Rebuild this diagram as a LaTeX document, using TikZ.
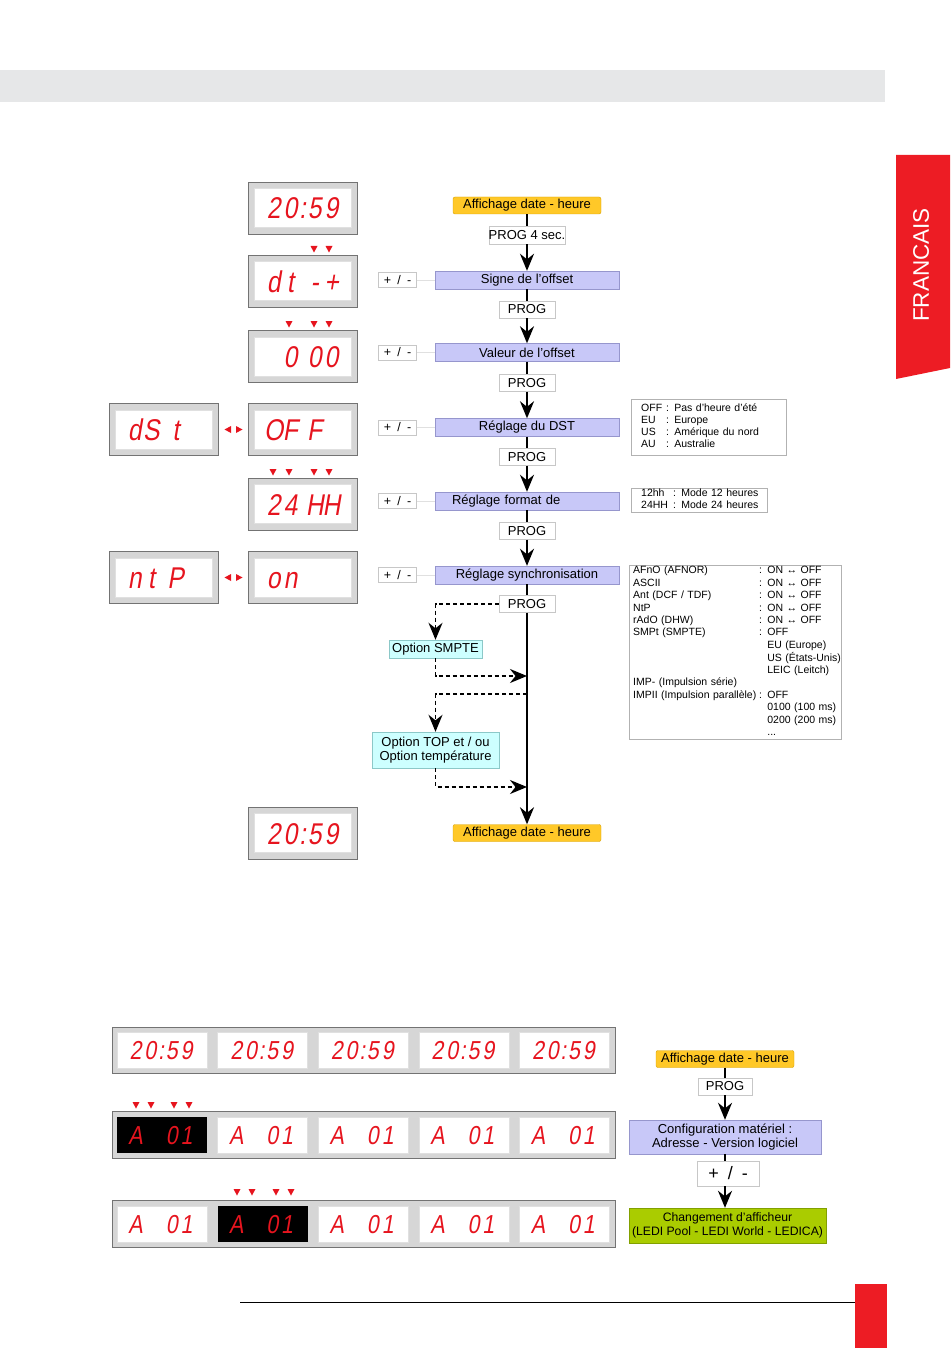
\documentclass[tikz,border=0pt]{standalone}
\usepackage{fontspec}
\setmainfont{Liberation Sans}
\newfontfamily\lcdfont{Liberation Sans}[FakeStretch=0.82, FakeSlant=0.17]
\usepackage{tikz}
\usetikzlibrary{shapes,arrows.meta,positioning,calc}

\definecolor{lcdred}{RGB}{230,20,30}
\definecolor{startfill}{RGB}{255,200,40}
\definecolor{startline}{RGB}{215,160,0}
\definecolor{menufill}{RGB}{200,200,248}
\definecolor{menuline}{RGB}{150,150,205}
\definecolor{optfill}{RGB}{205,255,255}
\definecolor{optline}{RGB}{140,200,200}
\definecolor{endfill}{RGB}{170,204,0}
\definecolor{endline}{RGB}{130,160,0}
\definecolor{bandgray}{RGB}{230,231,232}
\definecolor{tabred}{RGB}{237,28,36}

\newlength{\lcdw}
\newlength{\lcdg}
\newcommand{\flowfont}{\fontsize{13}{14.5}\selectfont}
\newcommand{\infofont}{\fontsize{10.5}{12}\selectfont}
\newcommand{\lcdcell}[1]{\makebox[\lcdw][c]{#1}}
\newcommand{\lcd}[5]{\lcdcell{#1}\lcdcell{#2}\makebox[\lcdg][c]{#3}\lcdcell{#4}\lcdcell{#5}}
\newcommand{\ardown}[2]{\fill[lcdred] (#1-3.5,#2-3) -- (#1+3.5,#2-3) -- (#1,#2+3.5) -- cycle;}
\newcommand{\arleft}[2]{\fill[lcdred] (#1+3,#2-3.5) -- (#1+3,#2+3.5) -- (#1-3.5,#2) -- cycle;}
\newcommand{\arright}[2]{\fill[lcdred] (#1-3,#2-3.5) -- (#1-3,#2+3.5) -- (#1+3.5,#2) -- cycle;}

\begin{document}
\begin{tikzpicture}[x=1pt, y=-1pt,
    casing/.style={draw=black!55, fill=black!16, line width=0.8pt, inner sep=0pt},
    lit/.style={fill=white, draw=black!12, inner sep=0pt},
    dark/.style={fill=black, inner sep=0pt},
    lcdtxt/.style={anchor=base west, inner sep=0pt, text=lcdred,
        font={\lcdfont\fontsize{30}{30}\selectfont\setlength{\lcdw}{16.8pt}\setlength{\lcdg}{7.5pt}}},
    lcdsmall/.style={lcdtxt,
        font={\lcdfont\fontsize{26}{26}\selectfont\setlength{\lcdw}{14.8pt}\setlength{\lcdg}{6.5pt}}},
    start/.style={draw=startline, fill=startfill, rounded corners=2pt, minimum width=148pt, minimum height=17pt, inner sep=0pt, font=\flowfont},
    finish/.style={draw=endline, fill=endfill, minimum width=197pt, minimum height=35pt, inner sep=0pt, align=center, font=\fontsize{12.2}{14}\selectfont},
    menu/.style={draw=menuline, fill=menufill, minimum width=184pt, minimum height=18pt, inner sep=0pt, font=\flowfont},
    btn/.style={draw=black!22, fill=white, minimum width=56pt, minimum height=17pt, inner sep=0pt, font=\flowfont},
    pm/.style={draw=black!22, fill=white, minimum width=38pt, minimum height=15pt, inner sep=0pt, font=\fontsize{12.5}{14}\selectfont},
    option/.style={draw=optline, fill=optfill, inner sep=0pt, align=center, font=\flowfont},
    info/.style={draw=black!30, fill=white, anchor=north west, inner ysep=0pt, align=left, font=\infofont},
    wire/.style={line width=2pt},
    flow/.style={line width=2pt, -{Stealth[length=17pt, width=14pt]}},
    dflow/.style={line width=1.8pt, dash pattern=on 4pt off 3pt, -{Stealth[length=17pt, width=14pt]}},
    faint/.style={draw=black!12, line width=0.6pt}
]
    \useasboundingbox (0,0) rectangle (950,1348);

    % Page
    \fill[bandgray] (0,70) rectangle (885,102);
    \fill[tabred] (896,155) -- (950,155) -- (950,368) -- (896,379) -- cycle;
    \node[rotate=90, inner sep=0pt, text=white, font=\fontsize{22.5}{24}\selectfont] (lang) at (921,265) {FRANCAIS};
    \draw[line width=0.8pt] (240,1302) -- (855,1302);
    \fill[tabred] (855,1284) rectangle (887,1348);

    % Displays of the menu
    \foreach \n/\yc/\txt in {clk/208/{\lcd{2}{0}{:}{5}{9}}, sign/281/{\lcd{d}{t}{}{-}{+}},
        offs/356.5/{\lcd{}{0}{}{0}{0}}, dstv/429.5/{\lcd{O}{F}{}{F}{}},
        mode/504/{\lcd{2}{4}{}{H}{H}}, ntpv/577.5/{\lcd{o}{n}{}{}{}}, clkb/833/{\lcd{2}{0}{:}{5}{9}}} {
        \node[casing, minimum width=109pt, minimum height=52pt] (\n) at (302.5,\yc) {};
        \node[lit, minimum width=97pt, minimum height=39pt] (\n-in) at (\n) {};
        \node[lcdtxt] (\n-txt) at (265,\yc+11) {\txt};
    }
    \foreach \n/\yc/\txt in {dstn/429.5/{\lcd{d}{S}{}{t}{}}, ntpn/577.5/{\lcd{n}{t}{}{P}{}}} {
        \node[casing, minimum width=109pt, minimum height=52pt] (\n) at (163.5,\yc) {};
        \node[lit, minimum width=97pt, minimum height=39pt] (\n-in) at (\n) {};
        \node[lcdtxt] (\n-txt) at (126,\yc+11) {\txt};
    }

    % Blinking digits
    \foreach \x in {314,329} \ardown{\x}{249};
    \foreach \x in {289,314,329} \ardown{\x}{324};
    \foreach \x in {273,289,314,329} \ardown{\x}{472};
    \foreach \y in {429.5,577.5} {
        \arleft{228}{\y}
        \arright{239}{\y}
    }

    % Menu
    \node[start] (aff1) at (527,205.5) {Affichage date - heure};
    \node[btn, minimum width=75pt, minimum height=18pt] (prog1) at (527,235) {PROG 4 sec.};
    \node[menu] (signe) at (527,280) {Signe de l'offset};
    \node[btn] (prog2) at (527,309.5) {PROG};
    \node[menu] (valeur) at (527,352.5) {Valeur de l'offset};
    \node[btn] (prog3) at (527,383) {PROG};
    \node[menu] (dst) at (527,427.5) {Réglage du DST};
    \node[btn] (prog4) at (527,457) {PROG};
    \node[menu, text width=150pt, align=left] (format) at (527,501) {Réglage format de};
    \node[btn] (prog5) at (527,531) {PROG};
    \node[menu] (sync) at (527,575) {Réglage synchronisation};
    \node[btn] (prog6) at (527,604) {PROG};
    \node[option, minimum width=93pt, minimum height=18pt] (smpte) at (435.5,649) {Option SMPTE};
    \node[option, minimum width=127pt, minimum height=36pt] (topt) at (435.5,750) {Option TOP et / ou\\Option température};
    \node[start] (aff2) at (527,833) {Affichage date - heure};

    \foreach \m/\p in {signe/pm1, valeur/pm2, dst/pm3, format/pm4, sync/pm5} {
        \node[pm, left=18pt of \m] (\p) {+\enspace/\enspace-};
        \draw[faint] (\p) -- (\m);
    }

    % Transitions
    \draw[wire] (aff1) -- (prog1);
    \draw[flow] (prog1) -- (signe);
    \foreach \a/\b/\c in {signe/prog2/valeur, valeur/prog3/dst, dst/prog4/format, format/prog5/sync} {
        \draw[wire] (\a) -- (\b);
        \draw[flow] (\b) -- (\c);
    }
    \draw[wire] (sync) -- (prog6);
    \draw[flow] (prog6) -- (aff2);

    % Options
    \coordinate (join1) at (527,676);
    \coordinate (fork2) at (527,694);
    \coordinate (join2) at (527,787);
    \draw[dflow] (prog6.west) -| (smpte.north);
    \draw[dflow] (smpte.south) |- (join1);
    \draw[dflow] (fork2) -| (topt.north);
    \draw[dflow] (topt.south) |- (join2);

    % Values
    \node[info, text width=135pt, minimum height=56pt, inner xsep=10pt] (dstinfo) at (631,399) {%
        \begin{tabular}{@{}p{25pt}@{}l@{}}
        OFF & : Pas d'heure d'été\\
        EU & : Europe\\
        US & : Amérique du nord\\
        AU & : Australie
        \end{tabular}};
    \node[info, anchor=west, text width=116pt, inner xsep=10pt] (fmtinfo) at (631,500.5) {%
        \begin{tabular}{@{}p{32pt}@{}l@{}}
        12hh & : Mode 12 heures\\
        24HH & : Mode 24 heures
        \end{tabular}};
    \node[info, text width=204pt, inner xsep=4pt, font=\fontsize{10.5}{12.4}\selectfont] (syncinfo) at (629,565) {%
        \begin{tabular}{@{}p{126pt}@{}l@{}}
        AFnO (AFNOR) & : ON ↔ OFF\\
        ASCII & : ON ↔ OFF\\
        Ant (DCF / TDF) & : ON ↔ OFF\\
        NtP & : ON ↔ OFF\\
        rAdO (DHW) & : ON ↔ OFF\\
        SMPt (SMPTE) & : OFF\\
        & \phantom{: }EU (Europe)\\
        & \phantom{: }US (États-Unis)\\
        & \phantom{: }LEIC (Leitch)\\
        IMP- (Impulsion série) & \\
        IMPII (Impulsion parallèle) & : OFF\\
        & \phantom{: }0100 (100 ms)\\
        & \phantom{: }0200 (200 ms)\\
        & \phantom{: }...
        \end{tabular}};

    % Display bar
    \node[casing, minimum width=503pt, minimum height=46pt] (row1) at (363.5,1050) {};
    \node[casing, minimum width=503pt, minimum height=47pt] (row2) at (363.5,1135) {};
    \node[casing, minimum width=503pt, minimum height=47pt] (row3) at (363.5,1224) {};
    \foreach \i in {0,...,4} {
        \node[lit, minimum width=90pt, minimum height=36pt] (row1-\i) at (162+100.6*\i,1050) {};
        \node[lcdsmall] (row1-\i-txt) at (128+100.6*\i,1059.3) {\lcd{2}{0}{:}{5}{9}};
    }
    \foreach \i/\s in {0/dark, 1/lit, 2/lit, 3/lit, 4/lit} {
        \node[\s, minimum width=90pt, minimum height=36pt] (row2-\i) at (162+100.6*\i,1135) {};
        \node[lcdsmall] (row2-\i-txt) at (128+100.6*\i,1144.3) {\lcd{A}{}{}{0}{1}};
    }
    \foreach \i/\s in {0/lit, 1/dark, 2/lit, 3/lit, 4/lit} {
        \node[\s, minimum width=90pt, minimum height=36pt] (row3-\i) at (162+100.6*\i,1224) {};
        \node[lcdsmall] (row3-\i-txt) at (128+100.6*\i,1233.3) {\lcd{A}{}{}{0}{1}};
    }
    \foreach \x in {136,151,174,189} \ardown{\x}{1105};
    \foreach \x in {237,252,276,291} \ardown{\x}{1192};

    % Hardware menu
    \node[start, minimum width=138pt] (aff3) at (725,1059) {Affichage date - heure};
    \node[btn, minimum width=54pt] (prog7) at (725,1086.5) {PROG};
    \node[menu, minimum width=192pt, minimum height=34pt, align=center] (config) at (725,1137) {Configuration matériel :\\Adresse - Version logiciel};
    \node[btn, minimum width=62pt, minimum height=25pt, font=\fontsize{18}{20}\selectfont] (pm6) at (728,1173.5) {+\enspace/\enspace-};
    \node[finish] (change) at (727.5,1225.5) {Changement d'afficheur\\(LEDI Pool - LEDI World - LEDICA)};

    \draw[wire] (aff3) -- (prog7);
    \draw[flow] (prog7) -- (config);
    \draw[wire] (config.south) -- (config.south |- pm6.north);
    \draw[flow] (pm6.south -| config) -- (change.north -| config);
\end{tikzpicture}
\end{document}
